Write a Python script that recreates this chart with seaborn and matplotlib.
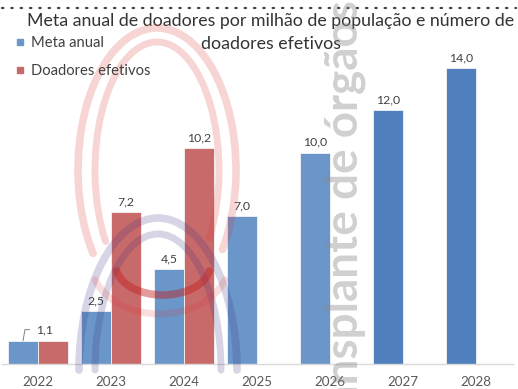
import matplotlib
matplotlib.use("Agg")
import matplotlib.pyplot as plt
from matplotlib.patches import Arc
from matplotlib.lines import Line2D
import numpy as np
import pandas as pd
import seaborn as sns

# Data
years = ["2022", "2023", "2024", "2025", "2026", "2027", "2028"]
meta_anual = [1.1, 2.5, 4.5, 7.0, 10.0, 12.0, 14.0]
doadores_efetivos = [1.1, 7.2, 10.2, None, None, None, None]
series_names = ["Meta anual", "Doadores efetivos"]

df = pd.DataFrame({
    "ano": years * 2,
    "serie": [series_names[0]] * len(years) + [series_names[1]] * len(years),
    "valor": meta_anual + [np.nan if v is None else v for v in doadores_efetivos],
})

sns.set_theme(style="white")
plt.rcParams["font.family"] = ["Lato", "DejaVu Sans"]

W, H = 518, 389
fig = plt.figure(figsize=(W / 100, H / 100), dpi=100)
fig.patch.set_facecolor("white")

def px_axes(left, top, right, bottom):
    return [left / W, (H - bottom) / H, (right - left) / W, (bottom - top) / H]

ax = fig.add_axes(px_axes(1.5, 0, 512.5, 364))
palette = {"Meta anual": "#6a96c9", "Doadores efetivos": "#c96a6a"}
sns.barplot(data=df, x="ano", y="valor", hue="serie", order=years,
            hue_order=series_names, palette=palette, width=0.82,
            saturation=1, ax=ax, legend=False, edgecolor="#f4f4f4", linewidth=0.6)

# the last two targets are drawn in a deeper blue
blue_bars = ax.containers[0]
for i, patch in enumerate(blue_bars.patches):
    if years[i] in ("2027", "2028"):
        patch.set_facecolor("#4f80bd")

ax.set_xlim(-0.5, len(years) - 0.5)
ax.set_ylim(0, 364 / 21.14)
ax.set_xlabel("")
ax.set_ylabel("")
ax.set_yticks([])
for s in ["left", "right", "top"]:
    ax.spines[s].set_visible(False)
ax.spines["bottom"].set_color("#d9d9d9")
ax.spines["bottom"].set_linewidth(1.0)
ax.tick_params(axis="x", length=0, pad=9, labelsize=9.6, labelcolor="#595959")
ax.set_facecolor("none")

def fmt(v):
    return f"{v:.1f}".replace(".", ",")

# value labels
for cont in ax.containers:
    for patch in cont.patches:
        h = patch.get_height()
        if np.isnan(h) or h == 0:
            continue
        xc = patch.get_x() + patch.get_width() / 2
        if abs(xc - (0 - 0.205)) < 0.05:
            # 2022: one shared label with a leader line
            ax.annotate(fmt(h), xy=(xc, h), xytext=(9, 8),
                        textcoords="offset points", ha="left", va="center",
                        fontsize=8.8, color="#404040",
                        arrowprops=dict(arrowstyle="-", color="#7f7f7f", lw=0.7,
                                        connectionstyle="angle,angleA=0,angleB=80,rad=0",
                                        shrinkA=2, shrinkB=0))
            continue
        if abs(xc - (0 + 0.205)) < 0.05:
            continue
        ax.annotate(fmt(h), xy=(xc, h), xytext=(0, 3.5), textcoords="offset points",
                    ha="center", va="bottom", fontsize=8.8, color="#404040")

# legend
handles = [Line2D([0], [0], marker="s", linestyle="", markersize=4.8,
                  markerfacecolor=palette[n], markeredgecolor=palette[n]) for n in series_names]
leg = fig.legend(handles, series_names, loc="upper left",
                 bbox_to_anchor=(10 / W, 1 - 30 / H), frameon=False,
                 fontsize=10.6, labelcolor="#404040", handlelength=0.6,
                 handletextpad=0.4, labelspacing=0.95, borderaxespad=0)

# title
fig.text(271 / W, 1 - 21 / H,
         "Meta anual de doadores por milhão de população e número de",
         ha="center", va="center", fontsize=12.8, color="#333333")
fig.text(271 / W, 1 - 44 / H, "doadores efetivos",
         ha="center", va="center", fontsize=12.8, color="#333333")

# overlay in pixel coordinates for the page decorations
ov = fig.add_axes([0, 0, 1, 1], zorder=5)
ov.set_xlim(0, W)
ov.set_ylim(H, 0)
ov.axis("off")
ov.patch.set_alpha(0)

# dotted rule of the page above the chart
ov.plot([2, 516], [8, 8], color="#404040", lw=1.6, linestyle=(0, (0.6, 3.6)),
        dash_capstyle="round")

def ellipse_arc(cx, cy, w, h, t1, t2, **kw):
    """Arc given by parametric angles (degrees) on the ellipse."""
    def true_angle(t):
        r = np.radians(t)
        a = np.degrees(np.arctan2(h * np.sin(r), w * np.cos(r)))
        # keep the same turn as t
        while a < t - 180:
            a += 360
        while a > t + 180:
            a -= 360
        return a
    ov.add_patch(Arc((cx, cy), w, h, theta1=true_angle(t1), theta2=true_angle(t2),
                     capstyle="round", **kw))

# background emblem: arches and smiles
red = "#e03030"
purple = "#3a2f80"
ellipse_arc(157, 170, 158, 284, 144, 394, lw=5.5, color=red, alpha=0.2)
ellipse_arc(157, 170, 124, 256, 146, 392, lw=5.0, color=red, alpha=0.2)
ellipse_arc(158, 370, 158, 304, 180, 360, lw=5.5, color=purple, alpha=0.2)
ellipse_arc(158, 370, 126, 272, 180, 360, lw=5.0, color=purple, alpha=0.2)
ellipse_arc(163, 266, 94, 58, 10, 170, lw=5.5, color="#c02020", alpha=0.45)
ellipse_arc(160, 262, 138, 104, 20, 160, lw=5.0, color=red, alpha=0.16)

ov.text(358, 452, "Transplante de órgãos", rotation=90, rotation_mode="anchor",
        ha="left", va="baseline", fontsize=33, fontweight="bold",
        color="#8a8a8a", alpha=0.4, family=["Lato", "DejaVu Sans"])

fig.savefig("out.png", dpi=100)
